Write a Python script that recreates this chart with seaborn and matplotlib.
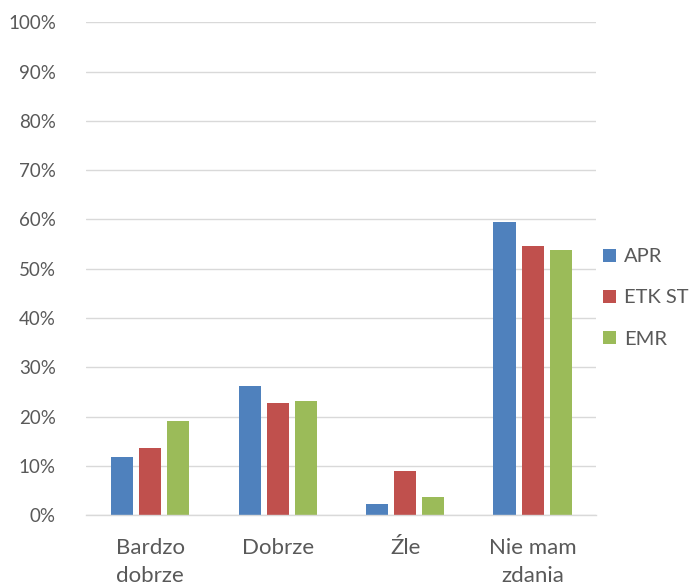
import matplotlib
matplotlib.use("Agg")
import matplotlib.pyplot as plt
import seaborn as sns
import pandas as pd
from matplotlib.ticker import MultipleLocator, FuncFormatter

categories = ["Bardzo\ndobrze", "Dobrze", "Źle", "Nie mam\nzdania"]
series_names = ["APR", "ETK ST", "EMR"]
apr = [11.9, 26.2, 2.4, 59.5]
etk_st = [13.6, 22.7, 9.0, 54.6]
emr = [19.2, 23.2, 3.8, 53.9]
colors = ["#4F81BD", "#C0504D", "#9BBB59"]

rows = []
for name, vals in zip(series_names, [apr, etk_st, emr]):
    for cat, v in zip(categories, vals):
        rows.append({"kategoria": cat, "seria": name, "wartosc": v})
df = pd.DataFrame(rows)

sns.set_theme(style="white")
plt.rcParams["font.family"] = ["Lato", "DejaVu Sans"]

fig = plt.figure(figsize=(6.89, 5.85), dpi=100)
ax = fig.add_axes([0.1255, 0.119, 0.74, 0.843])

sns.barplot(data=df, x="kategoria", y="wartosc", hue="seria",
            palette=colors, width=0.66, gap=0.21, ax=ax,
            saturation=1, legend=True, linewidth=0)

ax.set_ylim(0, 100)
ax.set_xlim(-0.5, 3.5)
ax.yaxis.set_major_locator(MultipleLocator(10))
ax.yaxis.set_major_formatter(FuncFormatter(lambda v, p: f"{int(round(v))}%"))
ax.grid(axis="y", color="#d9d9d9", linewidth=1)
ax.set_axisbelow(True)
for s in ["top", "right", "left"]:
    ax.spines[s].set_visible(False)
ax.spines["bottom"].set_color("#d9d9d9")
ax.spines["bottom"].set_linewidth(1)
ax.set_xlabel("")
ax.set_ylabel("")
ax.tick_params(axis="both", length=0, labelcolor="#595959")
ax.tick_params(axis="y", labelsize=13.5, pad=22)
ax.tick_params(axis="x", labelsize=16, pad=16)
for lbl in ax.get_xticklabels():
    lbl.set_linespacing(1.5)

handles, labels = ax.get_legend_handles_labels()
ax.legend(handles, labels, loc="center left", bbox_to_anchor=(0.863, 0.4906),
          bbox_transform=fig.transFigure, frameon=False, fontsize=14.5,
          labelcolor="#595959", handlelength=0.65, handleheight=0.65,
          handletextpad=0.4, labelspacing=1.2, borderaxespad=0)

fig.savefig("out.png", dpi=100)
